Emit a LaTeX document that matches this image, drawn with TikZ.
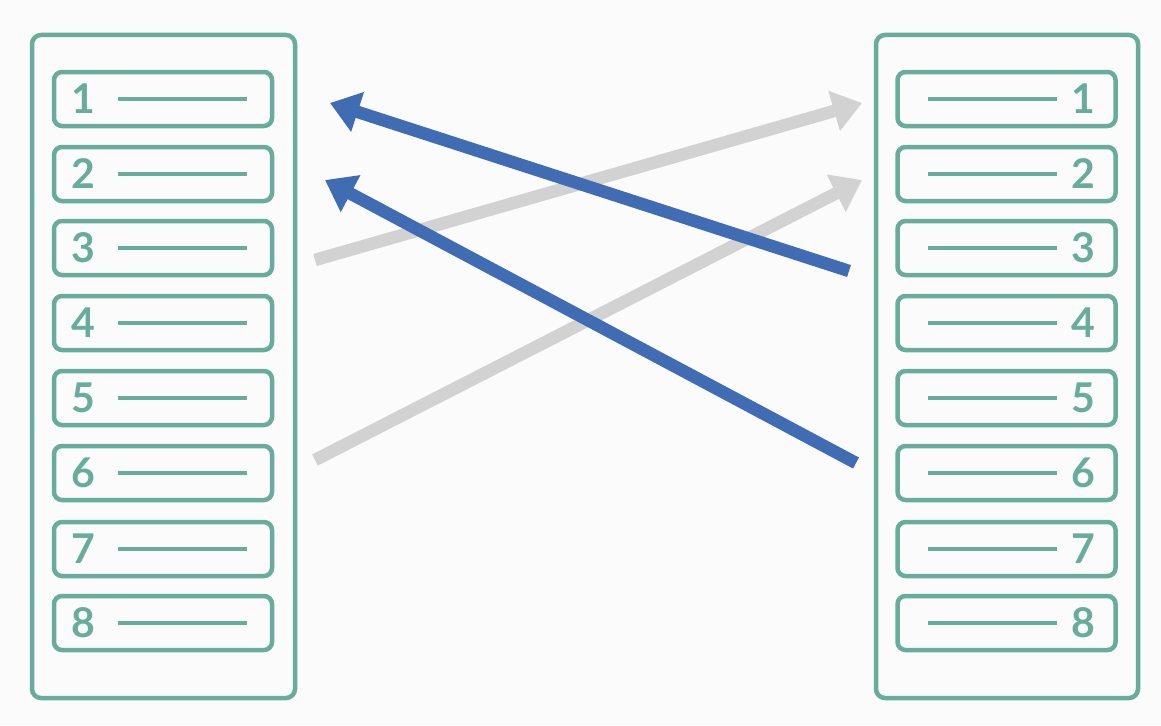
\documentclass[tikz,border=0pt]{standalone}
\usepackage{fontspec}
\setmainfont{Lato}
\usetikzlibrary{arrows.meta}
\definecolor{teal}{RGB}{104,172,156}
\definecolor{arrblue}{RGB}{64,108,180}
\definecolor{arrgray}{RGB}{210,210,210}
\definecolor{bg}{RGB}{251,251,251}
\tikzset{
  outerbox/.style={draw=teal, line width=4.5pt, rounded corners=9pt},
  rowbox/.style={draw=teal, line width=4.5pt, rounded corners=8pt, minimum width=218pt, minimum height=54pt, inner sep=0pt},
  digit/.style={text=teal, font=\fontsize{41}{41}\selectfont\bfseries, inner sep=0pt},
  dash line/.style={draw=teal, line width=4.5pt},
  grayarrow/.style={draw=arrgray, line width=12.5pt, -{Triangle[length=29pt,width=40pt]}},
  bluearrow/.style={draw=arrblue, line width=12.5pt, -{Triangle[length=29pt,width=40pt]}},
}
\begin{document}
\begin{tikzpicture}[x=1pt,y=-1pt]
\fill[bg] (0,0) rectangle (1161,725);
\useasboundingbox (0,0) rectangle (1161,725);
\draw[outerbox] (32,35) rectangle (295,698);
\draw[outerbox] (876,35) rectangle (1138,698);
\foreach \i/\y in {1/99,2/174,3/248,4/323,5/398,6/473,7/549,8/623}{
  \node[rowbox] (L\i) at (163,\y) {};
  \node[digit] (Ld\i) at (83,\y) {\i};
  \coordinate (Ls\i) at (118,\y);
  \coordinate (Le\i) at (247,\y);
  \draw[dash line] (Ls\i) -- (Le\i);
  \node[rowbox] (R\i) at (1006.5,\y) {};
  \node[digit] (Rd\i) at (1083,\y) {\i};
  \coordinate (Rs\i) at (928,\y);
  \coordinate (Re\i) at (1057,\y);
  \draw[dash line] (Rs\i) -- (Re\i);
}
\coordinate (g1s) at (315,260);
\coordinate (g1e) at (862,103);
\coordinate (g2s) at (315,460);
\coordinate (g2e) at (862,180);
\coordinate (b1s) at (849,271);
\coordinate (b1e) at (330,103);
\coordinate (b2s) at (856,463);
\coordinate (b2e) at (325,180);
\draw[grayarrow] (g1s) -- (g1e);
\draw[grayarrow] (g2s) -- (g2e);
\draw[bluearrow] (b1s) -- (b1e);
\draw[bluearrow] (b2s) -- (b2e);
\end{tikzpicture}
\end{document}
